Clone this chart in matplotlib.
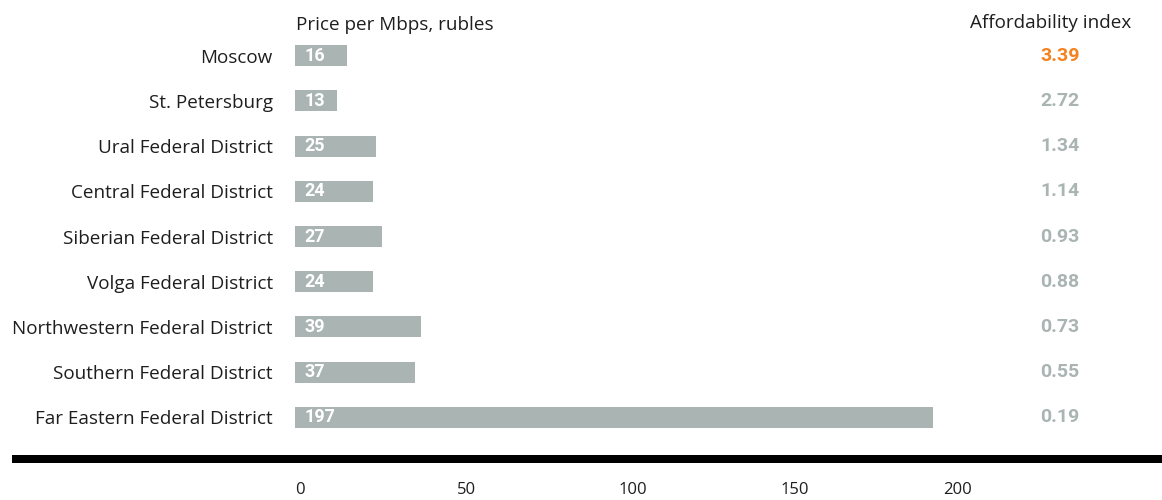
import matplotlib
matplotlib.use("Agg")
import matplotlib.pyplot as plt
from matplotlib.lines import Line2D
from matplotlib.transforms import blended_transform_factory

# Regional broadband data
regions = [
    "Moscow",
    "St. Petersburg",
    "Ural Federal District",
    "Central Federal District",
    "Siberian Federal District",
    "Volga Federal District",
    "Northwestern Federal District",
    "Southern Federal District",
    "Far Eastern Federal District",
]
price_per_mbps = [16, 13, 25, 24, 27, 24, 39, 37, 197]
affordability = [3.39, 2.72, 1.34, 1.14, 0.93, 0.88, 0.73, 0.55, 0.19]
x_ticks = [0, 50, 100, 150, 200]

W, H = 1162, 500
BAR_COLOR = "#a9b4b3"
ACCENT = "#f5821f"
TEXT = "#1e1e1e"
LABEL_FONT = "Open Sans"
NUM_FONT = "Roboto"

fig = plt.figure(figsize=(W / 100, H / 100), dpi=100)

# axes in pixel terms: x 0..200 spans 295..943 px, rows span 33..440 px
ax_left, ax_right = 295, 943
ax_top, ax_bottom = 33, 440
ax = fig.add_axes([ax_left / W, (H - ax_bottom) / H,
                   (ax_right - ax_left) / W, (ax_bottom - ax_top) / H])

ypos = list(range(len(regions)))
ax.barh(ypos, price_per_mbps, height=0.465, color=BAR_COLOR, align="center")
ax.set_xlim(0, 200)
ax.set_ylim(len(regions) - 0.5, -0.5)

for s in ax.spines.values():
    s.set_visible(False)

ax.set_yticks(ypos)
ax.set_yticklabels(regions, fontfamily=LABEL_FONT, fontsize=13.6, color=TEXT)
ax.tick_params(axis="y", length=0, pad=16)

ax.set_xticks(x_ticks)
ax.set_xticklabels([str(t) for t in x_ticks], fontfamily=LABEL_FONT,
                   fontsize=12, color=TEXT, ha="left")
ax.tick_params(axis="x", length=0, pad=30)

# value labels inside the bars
for y, v in zip(ypos, price_per_mbps):
    ax.annotate(str(v), xy=(0, y), xytext=(6.5, 0), textcoords="offset points",
                ha="left", va="center", color="white", fontweight="bold",
                fontfamily=NUM_FONT, fontsize=13)

# affordability index column
trans = blended_transform_factory(fig.transFigure, ax.transData)
for i, (y, a) in enumerate(zip(ypos, affordability)):
    ax.text(1060 / W, y, f"{a:.2f}", transform=trans, ha="center", va="center",
            color=ACCENT if i == 0 else BAR_COLOR, fontweight="bold",
            fontfamily=NUM_FONT, fontsize=14, clip_on=False)

# column headers
fig.text(296 / W, 1 - 30 / H, "Price per Mbps, rubles", ha="left",
         va="baseline", fontfamily=LABEL_FONT, fontsize=13.6, color=TEXT)
fig.text(970 / W, 1 - 28 / H, "Affordability index", ha="left",
         va="baseline", fontfamily=LABEL_FONT, fontsize=13.6, color=TEXT)

# heavy baseline rule
fig.add_artist(Line2D([12 / W, 1.0], [1 - 459 / H, 1 - 459 / H],
                      transform=fig.transFigure, color="black",
                      linewidth=8 * 72 / 100, solid_capstyle="butt"))

fig.savefig("out.png", dpi=100, facecolor="white")
